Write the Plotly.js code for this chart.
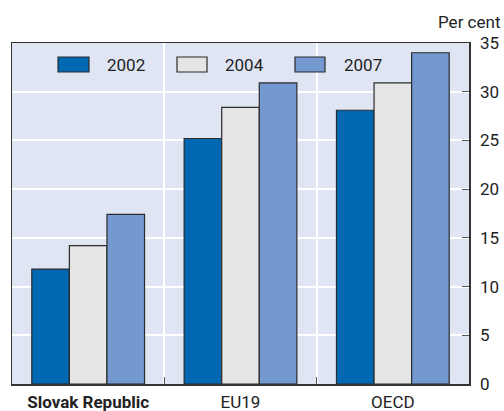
<!DOCTYPE html>
<html>
<head>
<meta charset="utf-8">
<script src="https://cdn.plot.ly/plotly-3.0.1.min.js"></script>
<style>html,body{margin:0;padding:0;background:#fff;}#chart{width:504px;height:411px;}</style>
</head>
<body>
<div id="chart"></div>
<script>
const categories = ["<b>Slovak Republic</b>", "EU19", "OECD"];
const seriesNames = ["2002", "2004", "2007"];
const values2002 = [11.8, 25.2, 28.1];
const values2004 = [14.2, 28.4, 30.9];
const values2007 = [17.4, 30.9, 34.0];
const yTicks = [0, 5, 10, 15, 20, 25, 30, 35];

const colors = ["#0068b3", "#e5e5e6", "#7399d0"];
const FONT = "Roboto, 'Liberation Sans', sans-serif";
const FS = 17;

const seriesValues = [values2002, values2004, values2007];
const traces = seriesValues.map((v, i) => ({
  type: "bar",
  x: categories,
  y: v,
  name: seriesNames[i],
  marker: {color: colors[i], line: {color: "#2b2b2b", width: 1.2}},
  showlegend: false,
  hoverinfo: "skip"
}));

// plot area in pixels
const L = 12, R = 469, T = 43, B = 384;
const px = x => (x - L) / (R - L);
const py = y => (B - y) / (B - T);

const legendBoxes = [[58, 89, 105], [177, 207, 223], [295, 325, 342]];
const shapes = [];
const annotations = [];
legendBoxes.forEach((b, i) => {
  shapes.push({type: "rect", xref: "paper", yref: "paper",
    x0: px(b[0]), x1: px(b[1]), y0: py(72), y1: py(57),
    fillcolor: colors[i], line: {color: "#2b2b2b", width: 1.2}});
  annotations.push({xref: "paper", yref: "paper", x: px(b[2]), y: py(64.5),
    xanchor: "left", yanchor: "middle", showarrow: false, text: seriesNames[i],
    font: {family: FONT, size: FS, color: "#222"}});
});
annotations.push({xref: "paper", yref: "paper", x: px(502), y: py(22),
  xanchor: "right", yanchor: "middle", showarrow: false, text: "Per cent",
  font: {family: FONT, size: FS, color: "#222"}});

const layout = {
  width: 504, height: 411,
  margin: {l: L, r: 504 - R, t: T, b: 411 - B, pad: 0},
  paper_bgcolor: "#ffffff",
  plot_bgcolor: "#e0e5f4",
  font: {family: FONT, size: FS, color: "#222"},
  barmode: "group",
  bargap: 0.26,
  bargroupgap: 0,
  showlegend: false,
  xaxis: {
    type: "category",
    tickson: "boundaries",
    tickangle: 0,
    showgrid: true, gridcolor: "#ffffff", gridwidth: 2,
    ticks: "inside", ticklen: 7, tickcolor: "#555", tickwidth: 1,
    showline: true, linecolor: "#333", linewidth: 1.5, mirror: true,
    tickfont: {family: FONT, size: FS, color: "#222"},
    ticklabelstandoff: 2,
    fixedrange: true
  },
  yaxis: {
    side: "right",
    range: [0, 35],
    tickvals: yTicks,
    ticktext: yTicks.map(String),
    showgrid: true, gridcolor: "#ffffff", gridwidth: 2,
    zeroline: false,
    ticks: "inside", ticklen: 7, tickcolor: "#555", tickwidth: 1,
    showline: true, linecolor: "#333", linewidth: 1.5, mirror: true,
    tickfont: {family: FONT, size: FS, color: "#222"},
    ticklabelstandoff: 6,
    fixedrange: true
  },
  shapes: shapes,
  annotations: annotations
};

Plotly.newPlot("chart", traces, layout, {staticPlot: true, displayModeBar: false});
</script>
</body>
</html>
